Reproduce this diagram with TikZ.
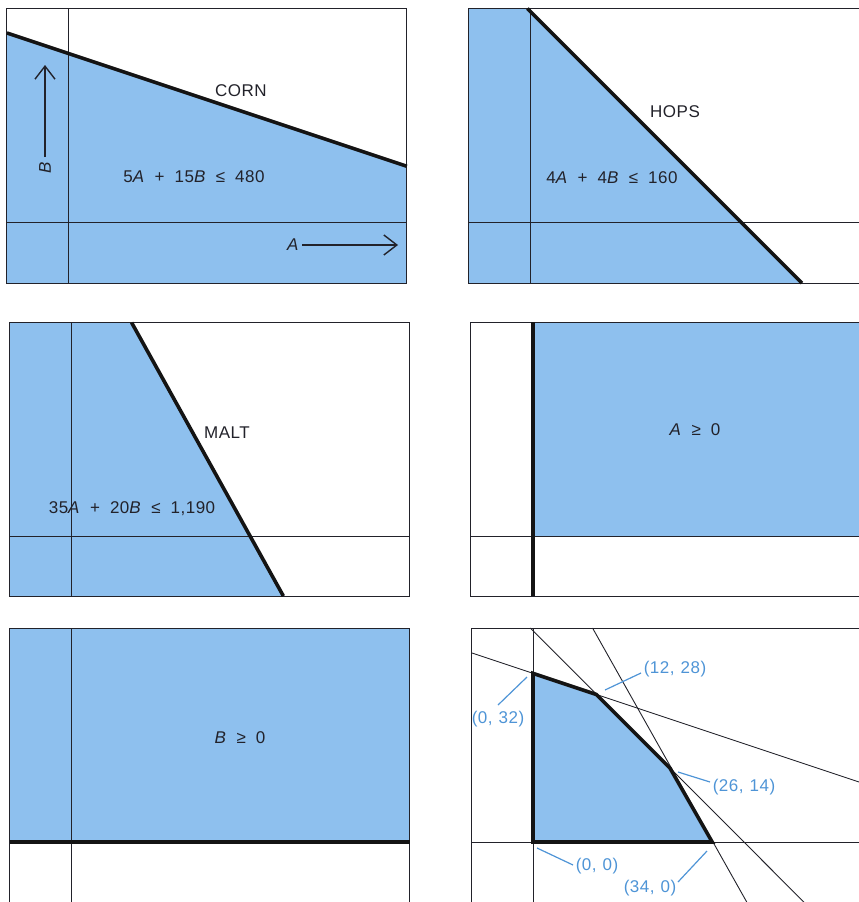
\documentclass[tikz,border=0pt]{standalone}
\usepackage{fontspec}
\setmainfont{Liberation Sans}[LetterSpace=3]
\usetikzlibrary{arrows.meta}
\definecolor{fillblue}{RGB}{142,192,238}
\definecolor{labelblue}{RGB}{78,148,214}
\definecolor{ink}{RGB}{34,34,42}
\newcommand{\gp}{\hspace{10pt}}
\newcommand{\cg}{\hspace{6pt}}
\tikzset{
  frame/.style={draw=ink, line width=0.9pt},
  axis/.style={draw=ink, line width=0.9pt},
  bound/.style={draw=black!92, line width=3.6pt},
  thinline/.style={draw=ink, line width=0.9pt},
  region/.style={fill=fillblue},
  lbl/.style={font=\fontsize{17}{19}\selectfont, text=ink, inner sep=0pt},
  ptlbl/.style={font=\fontsize{17}{19}\selectfont, text=labelblue, inner sep=0pt},
  leader/.style={draw=labelblue, line width=1.2pt},
  axarrow/.style={draw=ink, line width=1.4pt, -{Straight Barb[length=13pt,width=20pt]}},
}
\begin{document}
\begin{tikzpicture}[x=1pt,y=-1pt]
\path[use as bounding box] (0,0) rectangle (859,902);
\clip (0,0) rectangle (859,902);

% ---------- Panel 1: CORN ----------
\begin{scope}[shift={(68,222)},x=5.27pt,y=5.27pt]
  \fill[region] (-11.6,-11.6) -- (-11.6,35.87) -- (64.3,10.57) -- (64.3,-11.6) -- cycle;
  \draw[axis] (0,-11.6) -- (0,40.5);
  \draw[axis] (-11.6,0) -- (64.3,0);
  \draw[frame] (-11.6,-11.6) rectangle (64.3,40.5);
  \draw[bound] (-11.6,35.87) -- (64.3,10.57);
\end{scope}

% ---------- Panel 2: HOPS ----------
\begin{scope}[shift={(530,222)},x=5.27pt,y=5.27pt]
  \fill[region] (-11.6,-11.6) -- (-11.6,40.5) -- (-0.5,40.5) -- (51.6,-11.6) -- cycle;
  \draw[axis] (0,-11.6) -- (0,40.5);
  \draw[axis] (-11.6,0) -- (64.3,0);
  \draw[frame] (-11.6,-11.6) rectangle (64.3,40.5);
  \draw[bound] (-0.5,40.5) -- (51.6,-11.6);
\end{scope}

% ---------- Panel 3: MALT ----------
\begin{scope}[shift={(71,536)},x=5.27pt,y=5.27pt]
  \fill[region] (-11.6,-11.4) -- (-11.6,40.5) -- (11.5,40.5) -- (40.3,-11.4) -- cycle;
  \draw[axis] (0,-11.4) -- (0,40.5);
  \draw[axis] (-11.6,0) -- (64.3,0);
  \draw[frame] (-11.6,-11.4) rectangle (64.3,40.5);
  \draw[bound] (11.5,40.5) -- (40.3,-11.4);
\end{scope}

% ---------- Panel 4: A >= 0 ----------
\begin{scope}[shift={(533,536)},x=5.27pt,y=5.27pt]
  \fill[region] (0,0) rectangle (64.3,40.6);
  \draw[axis] (-11.8,0) -- (64.3,0);
  \draw[frame] (-11.8,-11.4) rectangle (64.3,40.6);
  \draw[bound] (0,-11.4) -- (0,40.6);
\end{scope}

% ---------- Panel 5: B >= 0 ----------
\begin{scope}[shift={(71,842)},x=5.27pt,y=5.27pt]
  \fill[region] (-11.6,0) rectangle (64.3,40.6);
  \draw[axis] (0,-12) -- (0,40.6);
  \draw[frame] (-11.6,-12) rectangle (64.3,40.6);
  \draw[bound] (-11.6,0) -- (64.3,0);
\end{scope}

% ---------- Panel 6: feasible region ----------
\begin{scope}[shift={(533,842)},x=5.27pt,y=5.27pt]
  \coordinate (v0) at (0,0);
  \coordinate (v1) at (0,32);
  \coordinate (v2) at (12,28);
  \coordinate (v3) at (26,14);
  \coordinate (v4) at (34,0);
  \fill[region] (v0) -- (v1) -- (v2) -- (v3) -- (v4) -- cycle;
  \draw[thinline] (-11.6,35.87) -- (70,8.67);
  \draw[thinline] (-0.5,40.6) -- (52,-12);
  \draw[thinline] (11.3,40.6) -- (40.9,-12);
  \draw[axis] (0,-12) -- (0,40.6);
  \draw[axis] (-11.6,0) -- (64.3,0);
  \draw[frame] (-11.6,-12) rectangle (64.3,40.6);
  \draw[bound, line join=miter] (v0) -- (v1) -- (v2) -- (v3) -- (v4) -- cycle;
\end{scope}

% ---------- Labels ----------
\node[lbl] (corn) at (241,91) {CORN};
\node[lbl] (ineq1) at (194,177) {5\textit{A}\gp+\gp15\textit{B}\gp≤\gp480};
\coordinate (bfrom) at (45,157);
\coordinate (bto) at (45,65);
\draw[axarrow] (bfrom) -- (bto);
\node[lbl, rotate=90] (blab) at (45,168) {\textit{B}};
\node[lbl] (alab) at (293,245) {\textit{A}};
\coordinate (ato) at (398,245);
\draw[axarrow] (alab.east) ++(3,0) -- (ato);

\node[lbl] (hops) at (675,112) {HOPS};
\node[lbl] (ineq2) at (612,178) {4\textit{A}\gp+\gp4\textit{B}\gp≤\gp160};
\node[lbl] (malt) at (227,433) {MALT};
\node[lbl] (ineq3) at (132,509) {35\textit{A}\gp+\gp20\textit{B}\gp≤\gp1,190};
\node[lbl] (ineq4) at (695,430) {\textit{A}\gp≥\gp0};
\node[lbl] (ineq5) at (240,738) {\textit{B}\gp≥\gp0};

\node[ptlbl] (p1228) at (675,669) {(12,\cg28)};
\node[ptlbl] (p032) at (498,719) {(0,\cg32)};
\node[ptlbl] (p2614) at (744,787) {(26,\cg14)};
\node[ptlbl] (p00) at (597,866) {(0,\cg0)};
\node[ptlbl] (p340) at (650,888) {(34,\cg0)};
\coordinate (l1a) at (605,690); \coordinate (l1b) at (641,673);
\coordinate (l2a) at (498,705); \coordinate (l2b) at (527,677);
\coordinate (l3a) at (678,772); \coordinate (l3b) at (710,782);
\coordinate (l4a) at (537,848); \coordinate (l4b) at (573,865);
\coordinate (l5a) at (678,882); \coordinate (l5b) at (707,851);
\draw[leader] (l1a) -- (l1b);
\draw[leader] (l2a) -- (l2b);
\draw[leader] (l3a) -- (l3b);
\draw[leader] (l4a) -- (l4b);
\draw[leader] (l5a) -- (l5b);
\end{tikzpicture}
\end{document}
